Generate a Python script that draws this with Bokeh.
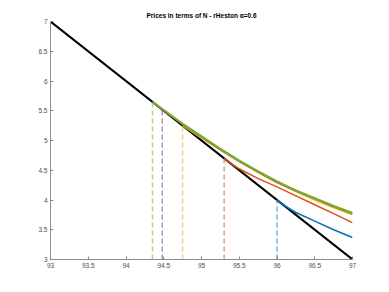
from bokeh.plotting import figure
from bokeh.models import FixedTicker, Range1d
from bokeh.embed import file_html
from bokeh.resources import INLINE

# payoff line
payoff_x = [93.0, 97.0]
payoff_y = [7.0, 3.0]

# curve data
blue_x = [96.0, 96.1, 96.25, 96.5, 96.75, 97.0]
blue_y = [4.0, 3.905, 3.79, 3.645, 3.50, 3.37]

orange_x = [95.3, 95.4, 95.5, 95.75, 96.0, 96.25, 96.5, 96.75, 97.0]
orange_y = [4.7, 4.605, 4.525, 4.36, 4.22, 4.07, 3.92, 3.77, 3.62]

yellow_x = [94.75, 95.0, 95.25, 95.5, 95.75, 96.0, 96.25, 96.5, 96.75, 97.0]
yellow_y = [5.25, 5.04, 4.84, 4.64, 4.46, 4.29, 4.14, 4.00, 3.87, 3.75]

purple_x = [94.48, 94.75, 95.0, 95.25, 95.5, 95.75, 96.0, 96.25, 96.5, 96.75, 97.0]
purple_y = [5.52, 5.275, 5.065, 4.855, 4.655, 4.475, 4.305, 4.155, 4.025, 3.895, 3.775]

green_x = [94.35, 94.5, 94.75, 95.0, 95.25, 95.5, 95.75, 96.0, 96.25, 96.5, 96.75, 97.0]
green_y = [5.65, 5.51, 5.28, 5.07, 4.86, 4.66, 4.48, 4.31, 4.16, 4.03, 3.90, 3.78]

# dashed markers at tangent points
mark_x = [96.0, 95.3, 94.75, 94.48, 94.35]
mark_top = [4.0, 4.7, 5.25, 5.52, 5.65]
mark_colors = ["#0072BD", "#D95319", "#EDB120", "#7E2F8E", "#77AC30"]

x_ticks = [93, 93.5, 94, 94.5, 95, 95.5, 96, 96.5, 97]
y_ticks = [3, 3.5, 4, 4.5, 5, 5.5, 6, 6.5, 7]

p = figure(width=381, height=284, output_backend="svg", toolbar_location=None,
           x_range=Range1d(93, 97), y_range=Range1d(3, 7),
           min_border_left=50, min_border_right=29, min_border_top=21, min_border_bottom=25)
p.title.text = "Prices in terms of N - rHeston \u03b1=0.6"
p.title.align = "center"
p.title.text_font = "Liberation Sans"
p.title.text_font_size = "6.5px"
p.title.text_font_style = "bold"
p.title.text_color = "#000000"
p.title.offset = 0
p.title.standoff = 5

p.outline_line_color = None
p.grid.visible = False
p.background_fill_color = "white"
p.border_fill_color = "white"

for ax in (p.xaxis[0], p.yaxis[0]):
    ax.axis_line_color = "#8c8c8c"
    ax.major_tick_line_color = "#8c8c8c"
    ax.major_tick_in = 3
    ax.major_tick_out = 0
    ax.minor_tick_line_color = None
    ax.major_label_text_font = "Liberation Sans"
    ax.major_label_text_font_size = "6.5px"
    ax.major_label_text_color = "#4d4d4d"
    ax.major_label_standoff = 3
p.xaxis.ticker = FixedTicker(ticks=x_ticks)
p.yaxis.ticker = FixedTicker(ticks=y_ticks)

p.line(payoff_x, payoff_y, line_color="black", line_width=2)

for xs, ys, c, w in [(blue_x, blue_y, "#0072BD", 1.5),
                     (orange_x, orange_y, "#D95319", 1.5),
                     (yellow_x, yellow_y, "#EDB120", 1.5),
                     (purple_x, purple_y, "#7E2F8E", 1.8),
                     (green_x, green_y, "#77AC30", 2.2)]:
    p.line(xs, ys, line_color=c, line_width=w)

p.segment(x0=mark_x, y0=[3.0] * len(mark_x), x1=mark_x, y1=mark_top,
          line_color=mark_colors, line_alpha=0.55, line_width=1.5, line_dash="5 3")

open("out.html", "w").write(file_html(p, INLINE))
